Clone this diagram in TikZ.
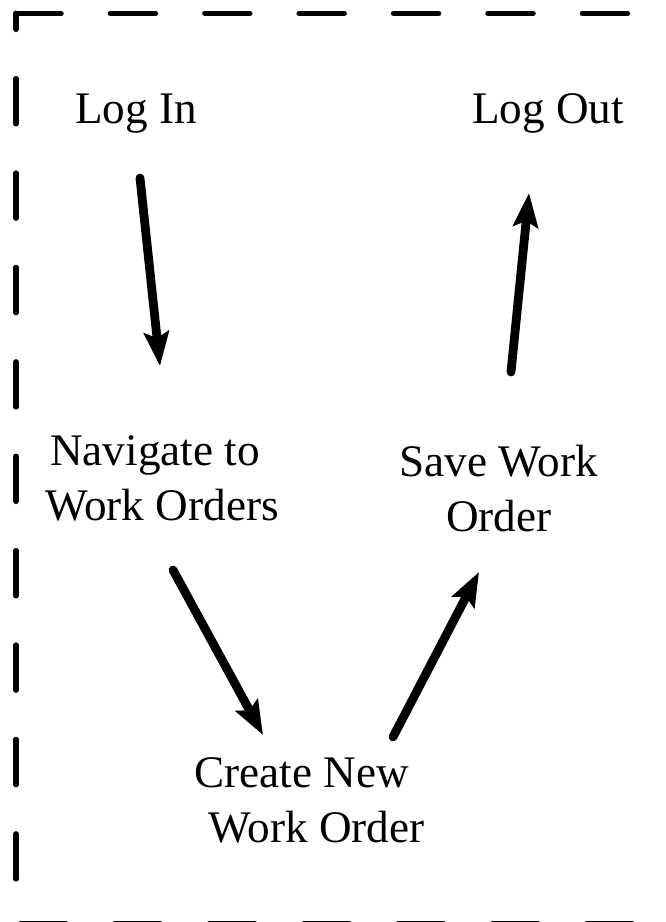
\documentclass[tikz,border=0pt]{standalone}
\usepackage{fontspec}
\setmainfont{Liberation Serif}
\usetikzlibrary{arrows.meta}
\begin{document}
\begin{tikzpicture}[x=0.5pt,y=-0.5pt,
  lbl/.style={inner sep=0pt, align=center, font=\fontsize{22.6}{27.5}\selectfont},
  flow/.style={line width=4.4pt, line cap=round, -{Stealth[length=17pt,width=12.5pt,inset=3pt]}},
  border/.style={line width=2.75pt, line cap=round, dash pattern=on 22.5pt off 24.7pt}]
\useasboundingbox (0,0) rectangle (665,922);
\clip (0,0) rectangle (665,922);
% dashed frame
\draw[border] (16,13.3) -- (720,13.3);
\draw[border, dash phase=14.5pt] (16,13.3) -- (16,923.5);
\draw[border] (20.75,923.5) -- (720,923.5);
% labels
\node[lbl, anchor=base] (login) at (136,123) {Log In};
\node[lbl, anchor=base] (logout) at (548,123) {Log Out};
\node[lbl, anchor=south] (nav) at (162,522) {Navigate to\hspace*{7pt}\\Work Orders};
\node[lbl, anchor=south] (save) at (499,532) {Save Work\\Order};
\node[lbl, anchor=south] (create) at (316.5,843.3) {Create New\hspace*{15pt}\\Work Order};
% connector ends
\coordinate (p1) at (140,178); \coordinate (q1) at (160,366);
\coordinate (p2) at (173,570); \coordinate (q2) at (263,735);
\coordinate (p3) at (393,737); \coordinate (q3) at (479,572);
\coordinate (p4) at (511,372); \coordinate (q4) at (529,193);
\draw[flow] (p1) -- (q1);
\draw[flow] (p2) -- (q2);
\draw[flow] (p3) -- (q3);
\draw[flow] (p4) -- (q4);
\end{tikzpicture}
\end{document}
